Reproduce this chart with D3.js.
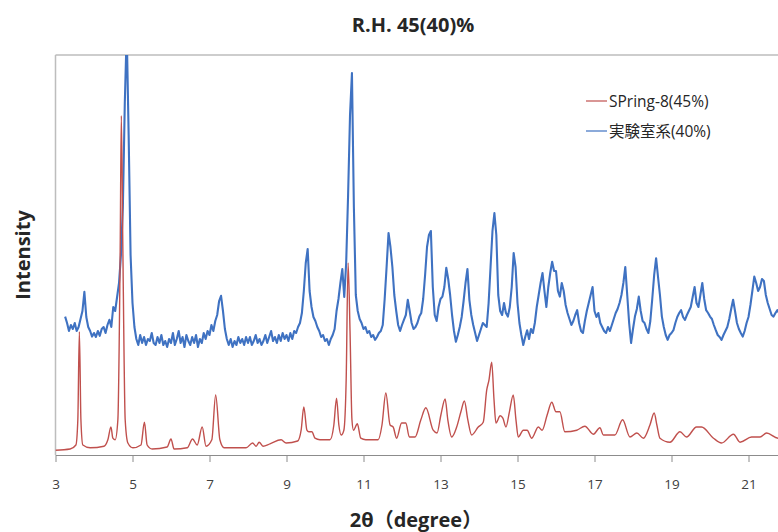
<!DOCTYPE html>
<html>
<head>
<meta charset="utf-8">
<script src="https://cdn.jsdelivr.net/npm/d3@7"></script>
<style>
  body { margin: 0; background: #fff; }
  text { font-family: "Open Sans", "Noto Sans CJK JP", sans-serif; }
</style>
</head>
<body>
<svg id="chart" width="778" height="532"></svg>
<script>
const title = "R.H. 45(40)%";
const xLabel = "2θ（degree）";
const yLabel = "Intensity";
const seriesNames = ["SPring-8(45%)", "実験室系(40%)"];
const xTicks = [3, 5, 7, 9, 11, 13, 15, 17, 19, 21];

// SPring-8 pattern, [2theta, intensity]
const spring8 = [
  [3.0, 1.2], [3.38, 1.5], [3.53, 2.5], [3.58, 8.8], [3.62, 30.8], [3.66, 8.8], [3.71, 2.5],
  [3.9, 1.8], [4.26, 2.2], [4.36, 3.8], [4.44, 7], [4.49, 4.2], [4.55, 3.8], [4.62, 8.8],
  [4.68, 51], [4.71, 84.8], [4.75, 51], [4.81, 8.8], [4.88, 3], [5.01, 1.8], [5.22, 2.5],
  [5.31, 8.2], [5.38, 2.5], [5.51, 1.5], [5.9, 2], [6.0, 4], [6.08, 1.5], [6.42, 1.8],
  [6.56, 4], [6.68, 2.5], [6.81, 7], [6.91, 2.2], [7.06, 3.8], [7.16, 15], [7.27, 3.8],
  [7.38, 1.8], [7.95, 1.8], [8.12, 3], [8.21, 2.2], [8.29, 3.2], [8.39, 2.2], [8.57, 2.8],
  [8.86, 3.8], [8.99, 3], [9.29, 3.5], [9.38, 6.2], [9.45, 12], [9.53, 6.2], [9.58, 5.8],
  [9.66, 5.8], [9.74, 4.2], [9.87, 3.8], [10.13, 3.8], [10.23, 7.5], [10.3, 14.2], [10.36, 7.5],
  [10.42, 5], [10.49, 6.2], [10.55, 18.8], [10.6, 48], [10.65, 31], [10.7, 8.8], [10.74, 6.2],
  [10.84, 7.8], [10.93, 4.2], [11.06, 3.8], [11.38, 3.8], [11.48, 7.5], [11.58, 15.5], [11.69, 7.5],
  [11.77, 7], [11.86, 4.2], [11.99, 8], [12.1, 8], [12.19, 4.5], [12.34, 4.5], [12.49, 8.8],
  [12.62, 11.8], [12.81, 6.2], [12.91, 5.5], [13.01, 10], [13.12, 14], [13.19, 8.8], [13.29, 4.5],
  [13.42, 7], [13.53, 10.8], [13.62, 13.5], [13.71, 8.8], [13.81, 5], [13.98, 7], [14.11, 8.2],
  [14.2, 16.2], [14.26, 18.8], [14.33, 23.2], [14.39, 13.8], [14.44, 8], [14.55, 9.8], [14.62, 9.2],
  [14.7, 7], [14.79, 10.8], [14.89, 15], [14.96, 8.8], [15.02, 4.5], [15.15, 6.2], [15.25, 6.2],
  [15.37, 4.2], [15.54, 7], [15.64, 6.2], [15.77, 10], [15.89, 13.2], [16.0, 10.8], [16.1, 10.8],
  [16.23, 5.8], [16.54, 6.2], [16.75, 7.2], [16.97, 5.2], [17.14, 6.8], [17.23, 5], [17.53, 5],
  [17.73, 8.8], [17.92, 4.5], [18.1, 5.5], [18.27, 4.2], [18.44, 7.5], [18.55, 10.5], [18.62, 7.5],
  [18.7, 4.2], [18.96, 3.2], [19.22, 5.8], [19.39, 4.5], [19.65, 7], [19.78, 7], [20.09, 4.2],
  [20.3, 3], [20.61, 5.2], [20.78, 3.2], [21.08, 4.5], [21.3, 4.5], [21.47, 5.5], [21.77, 4.2],
  [22.08, 4.5]
];

// lab pattern, sampled every 0.05 deg from 3.25
const labStart = 3.25;
const labStep = 0.05;
const labValues = [
  // 3.25 - 3.95
  34.6, 33, 31, 32.5, 31.5, 33, 31, 32, 34, 36, 40.8, 34.5, 32, 31, 29.6,
  // 4
  30.5, 29.5, 31, 29.8, 31.5, 32, 30.5, 32.5, 33.8, 32, 37, 36, 39.5, 43, 50, 62, 88, 106, 80, 50,
  // 5
  38, 32, 29, 27.5, 30, 28, 29.5, 27.5, 29, 28.5, 30.5, 28, 27.5, 29.5, 28, 30, 27.5, 28.5, 27, 29,
  // 6
  28, 30.5, 27.5, 29, 31, 28, 29.5, 27, 30, 28.5, 27.5, 29.5, 28, 30, 27, 29, 28, 30.5, 29, 31,
  // 7
  30, 32.5, 31, 33.5, 35, 38.5, 39.8, 36, 31.5, 29, 27.5, 29, 27, 28.5, 27.5, 29.5, 28, 29, 27.5, 29.5,
  // 8
  28, 29.5, 27.5, 28.5, 30, 28, 29, 27.5, 28.5, 30, 28, 29.5, 31, 28.5, 29.5, 28, 30, 28.5, 30.5, 29,
  // 9
  30, 28.5, 30.5, 29, 31, 30.5, 32, 33, 35.5, 41, 48, 51.5, 41, 37, 34.5, 33.5, 32, 31, 29.5, 30,
  // 10
  28.5, 29, 27.5, 29, 30, 31.5, 36, 39, 43, 46.5, 39.5, 48, 65, 85, 95.5, 62, 40, 36, 34, 33,
  // 11
  31.5, 32, 30.5, 31, 29.5, 30, 28.8, 29.5, 30.5, 31, 32.5, 39, 47, 55.5, 52, 47, 40, 36, 32.5, 31,
  // 12
  32.5, 33.8, 35, 38.8, 36, 33, 31.5, 32, 33, 34.6, 35.5, 39, 45, 52, 55, 56, 42, 35, 33.5, 37,
  // 13
  39, 39.6, 42, 46.8, 44, 40, 35, 31, 28.3, 30, 32, 34.5, 38.5, 43, 46.5, 38.8, 35, 32.5, 30.5, 28.5,
  // 14
  30, 31.5, 33, 32.5, 32, 38, 47, 56, 60.5, 55, 40, 36, 35, 38, 35.5, 34.6, 37, 42, 50.5, 47,
  // 15
  38, 33, 30, 27.5, 29.5, 31.2, 29, 31.5, 30.5, 33, 37, 40, 43, 45.5, 41, 37, 42, 45.5, 48.3, 46,
  // 16
  46, 41, 39.6, 43, 41, 37.5, 35.5, 34, 32.5, 33.5, 35, 36.2, 33, 31, 30.5, 33.5, 36, 38, 40, 42,
  // 17
  36, 34.5, 35.5, 33, 32, 31, 30.5, 32, 31, 32.5, 34, 35.5, 36.5, 38, 40, 43, 47, 40, 33, 28,
  // 18
  31.5, 34.6, 36.5, 39.6, 36, 33.5, 33, 31.5, 30.5, 33.5, 39, 45, 49.2, 44.5, 40, 34.6, 32, 30, 28.8, 30,
  // 19
  30.5, 31.2, 33, 34.5, 35.5, 36.2, 34.5, 33.8, 35, 36, 37, 39.5, 42, 38, 37, 40, 43, 39, 36.2, 35.5,
  // 20
  34.6, 34, 32.5, 31.2, 30, 29.5, 28.8, 30, 31, 32, 34, 36.5, 38.8, 36, 33, 31.5, 30.5, 29.6, 31, 33,
  // 21
  34.5, 37.5, 41, 44.6, 43, 41, 42, 44, 43.5, 40, 38, 36.5, 35, 34.6, 35.5, 36.2, 35.5, 36, 35, 35.5
];
const lab = labValues.map((v, i) => [labStart + i * labStep, v]);

const svg = d3.select("#chart");
const margin = { left: 55.5, top: 55, bottom: 455 };

const x = d3.scaleLinear().domain([3, 22]).range([margin.left, margin.left + 19 * 38.5]);
const y = d3.scaleLinear().domain([0, 100]).range([margin.bottom, margin.top]);

svg.append("defs").append("clipPath").attr("id", "plot")
  .append("rect")
  .attr("x", margin.left).attr("y", margin.top)
  .attr("width", 778 - margin.left).attr("height", margin.bottom - margin.top);

// frame
svg.append("line")
  .attr("x1", margin.left).attr("x2", 778)
  .attr("y1", margin.top).attr("y2", margin.top)
  .attr("stroke", "#bdbdbd").attr("stroke-width", 1.5);
svg.append("line")
  .attr("x1", margin.left).attr("x2", margin.left)
  .attr("y1", margin.top).attr("y2", margin.bottom)
  .attr("stroke", "#bdbdbd").attr("stroke-width", 1.5);

const labLine = d3.line().x(d => x(d[0])).y(d => y(d[1]));
const springLine = d3.line().curve(d3.curveMonotoneX).x(d => x(d[0])).y(d => y(d[1]));

const g = svg.append("g").attr("clip-path", "url(#plot)");
g.append("path").datum(lab)
  .attr("fill", "none").attr("stroke", "#3f72c2").attr("stroke-width", 2.1)
  .attr("stroke-linejoin", "round").attr("d", labLine);
g.append("path").datum(spring8)
  .attr("fill", "none").attr("stroke", "#c0504d").attr("stroke-width", 1.4)
  .attr("stroke-linejoin", "round").attr("d", springLine);

// x axis
const xAxis = svg.append("g")
  .attr("transform", `translate(0,${margin.bottom})`)
  .call(d3.axisBottom(x).tickValues(xTicks).tickSize(7).tickPadding(17).tickSizeOuter(0));
xAxis.select(".domain").attr("stroke", "#8c8c8c");
xAxis.selectAll(".tick line").attr("stroke", "#8c8c8c");
xAxis.selectAll("text").attr("font-size", 13.5).attr("fill", "#404040");

// titles
svg.append("text").attr("x", 413).attr("y", 32).attr("text-anchor", "middle")
  .attr("font-size", 20).attr("font-weight", "bold").attr("fill", "#262626").text(title);
svg.append("text").attr("x", 416).attr("y", 527).attr("text-anchor", "middle")
  .attr("font-size", 20).attr("font-weight", "bold").attr("fill", "#262626").text(xLabel);
svg.append("text").attr("transform", "translate(30,255) rotate(-90)").attr("text-anchor", "middle")
  .attr("font-size", 20).attr("font-weight", "bold").attr("fill", "#262626").text(yLabel);

// legend
const colors = ["#c0504d", "#3f72c2"];
const legend = svg.append("g");
seriesNames.forEach((name, i) => {
  const ly = 101 + i * 30;
  legend.append("line").attr("x1", 586).attr("x2", 607).attr("y1", ly).attr("y2", ly)
    .attr("stroke", colors[i]).attr("stroke-width", 1.2);
  legend.append("text").attr("x", 609).attr("y", ly + 5.5).attr("font-size", 15.5)
    .attr("fill", "#262626").text(name);
});
</script>
</body>
</html>
